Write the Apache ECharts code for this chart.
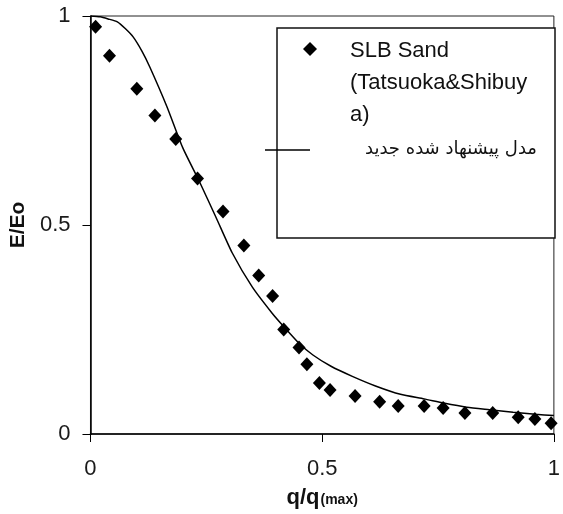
<!DOCTYPE html>
<html>
<head>
<meta charset="utf-8">
<script src="https://cdn.jsdelivr.net/npm/echarts@6/dist/echarts.min.js"></script>
<style>html,body{margin:0;padding:0;background:#fff}#c{width:563px;height:514px}</style>
</head>
<body>
<div id="c"></div>
<script>
// Measured data: SLB Sand (Tatsuoka & Shibuya)
const dataX = [0.011, 0.041, 0.100, 0.139, 0.184, 0.231, 0.286, 0.331, 0.363, 0.393, 0.417, 0.450, 0.467, 0.494, 0.517, 0.571, 0.624, 0.664, 0.720, 0.761, 0.808, 0.868, 0.923, 0.959, 0.994];
const dataY = [0.974, 0.905, 0.826, 0.762, 0.706, 0.611, 0.532, 0.451, 0.379, 0.330, 0.250, 0.207, 0.167, 0.122, 0.105, 0.091, 0.077, 0.067, 0.067, 0.062, 0.050, 0.050, 0.040, 0.036, 0.026];
// Proposed model curve
const modelX = [0, 0.021, 0.038, 0.058, 0.075, 0.092, 0.111, 0.128, 0.165, 0.199, 0.235, 0.271, 0.306, 0.349, 0.392, 0.417, 0.450, 0.480, 0.519, 0.565, 0.615, 0.669, 0.720, 0.762, 0.812, 0.861, 0.912, 0.960, 1.0];
const modelY = [1.0, 0.998, 0.993, 0.986, 0.970, 0.950, 0.916, 0.878, 0.783, 0.685, 0.604, 0.518, 0.433, 0.352, 0.289, 0.257, 0.217, 0.189, 0.162, 0.138, 0.115, 0.095, 0.084, 0.074, 0.064, 0.058, 0.052, 0.047, 0.044];
const xTicks = [0, 0.5, 1];
const yTicks = [0, 0.5, 1];
const legendData = 'SLB Sand\n(Tatsuoka&Shibuy\na)';
const legendModel = 'مدل پیشنهاد شده جدید';

const chart = echarts.init(document.getElementById('c'));
const lbl = {fontFamily: 'Liberation Sans', fontSize: 22, color: '#1a1a1a'};
chart.setOption({
  animation: false,
  backgroundColor: '#fff',
  grid: {left: 90, right: 5, top: 16, bottom: 79, show: true, borderColor: '#222', borderWidth: 1},
  xAxis: {
    type: 'value', min: 0, max: 1, interval: 0.5,
    axisLine: {show: true, onZero: false, lineStyle: {color: '#000', width: 1.5}},
    axisTick: {show: true, length: 8, lineStyle: {color: '#000'}},
    axisLabel: Object.assign({margin: 24, formatter: v => xTicks.includes(v) ? String(v) : ''}, lbl),
    splitLine: {show: false},
    name: '{a|q/q}{b|(max)}', nameLocation: 'middle', nameGap: 53,
    nameTextStyle: {rich: {
      a: {fontFamily: 'Liberation Sans', fontWeight: 'bold', fontSize: 22, color: '#111'},
      b: {fontFamily: 'Liberation Sans', fontWeight: 'bold', fontSize: 14, color: '#111', padding: [4, 0, 0, 1]}
    }}
  },
  yAxis: {
    type: 'value', min: 0, max: 1, interval: 0.5,
    axisLine: {show: true, onZero: false, lineStyle: {color: '#000', width: 1.5}},
    axisTick: {show: true, length: 8, lineStyle: {color: '#000'}},
    axisLabel: Object.assign({margin: 20, formatter: v => yTicks.includes(v) ? String(v) : ''}, lbl),
    splitLine: {show: false},
    name: 'E/Eo', nameLocation: 'middle', nameGap: 54, nameRotate: 90,
    nameTextStyle: {fontFamily: 'Liberation Sans', fontWeight: 'bold', fontSize: 21, color: '#111'}
  },
  series: [
    {
      name: 'SLB Sand', type: 'scatter', symbol: 'diamond', symbolSize: [13, 14],
      itemStyle: {color: '#000', opacity: 1},
      data: dataX.map((x, i) => [x, dataY[i]]), z: 3
    },
    {
      name: 'model', type: 'line', showSymbol: false, symbol: 'none', smooth: 0.2,
      lineStyle: {color: '#000', width: 1.5},
      data: modelX.map((x, i) => [x, modelY[i]]), z: 2
    }
  ],
  graphic: [
    {type: 'rect', shape: {x: 277, y: 28, width: 278, height: 210},
     style: {fill: '#fff', stroke: '#111', lineWidth: 1.5}, z: 10},
    {type: 'polygon', shape: {points: [[310, 42], [317, 49], [310, 56], [303, 49]]},
     style: {fill: '#000'}, z: 11},
    {type: 'text', x: 350, y: 35, z: 11,
     style: {text: legendData, fontFamily: 'Liberation Sans', fontSize: 22, lineHeight: 32, fill: '#111'}},
    {type: 'line', shape: {x1: 265, y1: 150, x2: 310, y2: 150},
     style: {stroke: '#000', lineWidth: 1.5}, z: 11},
    {type: 'text', x: 537, y: 149, z: 11,
     style: {text: legendModel, fontFamily: 'DejaVu Sans', fontSize: 18, fill: '#111', align: 'right', verticalAlign: 'middle'}}
  ]
});
</script>
</body>
</html>
